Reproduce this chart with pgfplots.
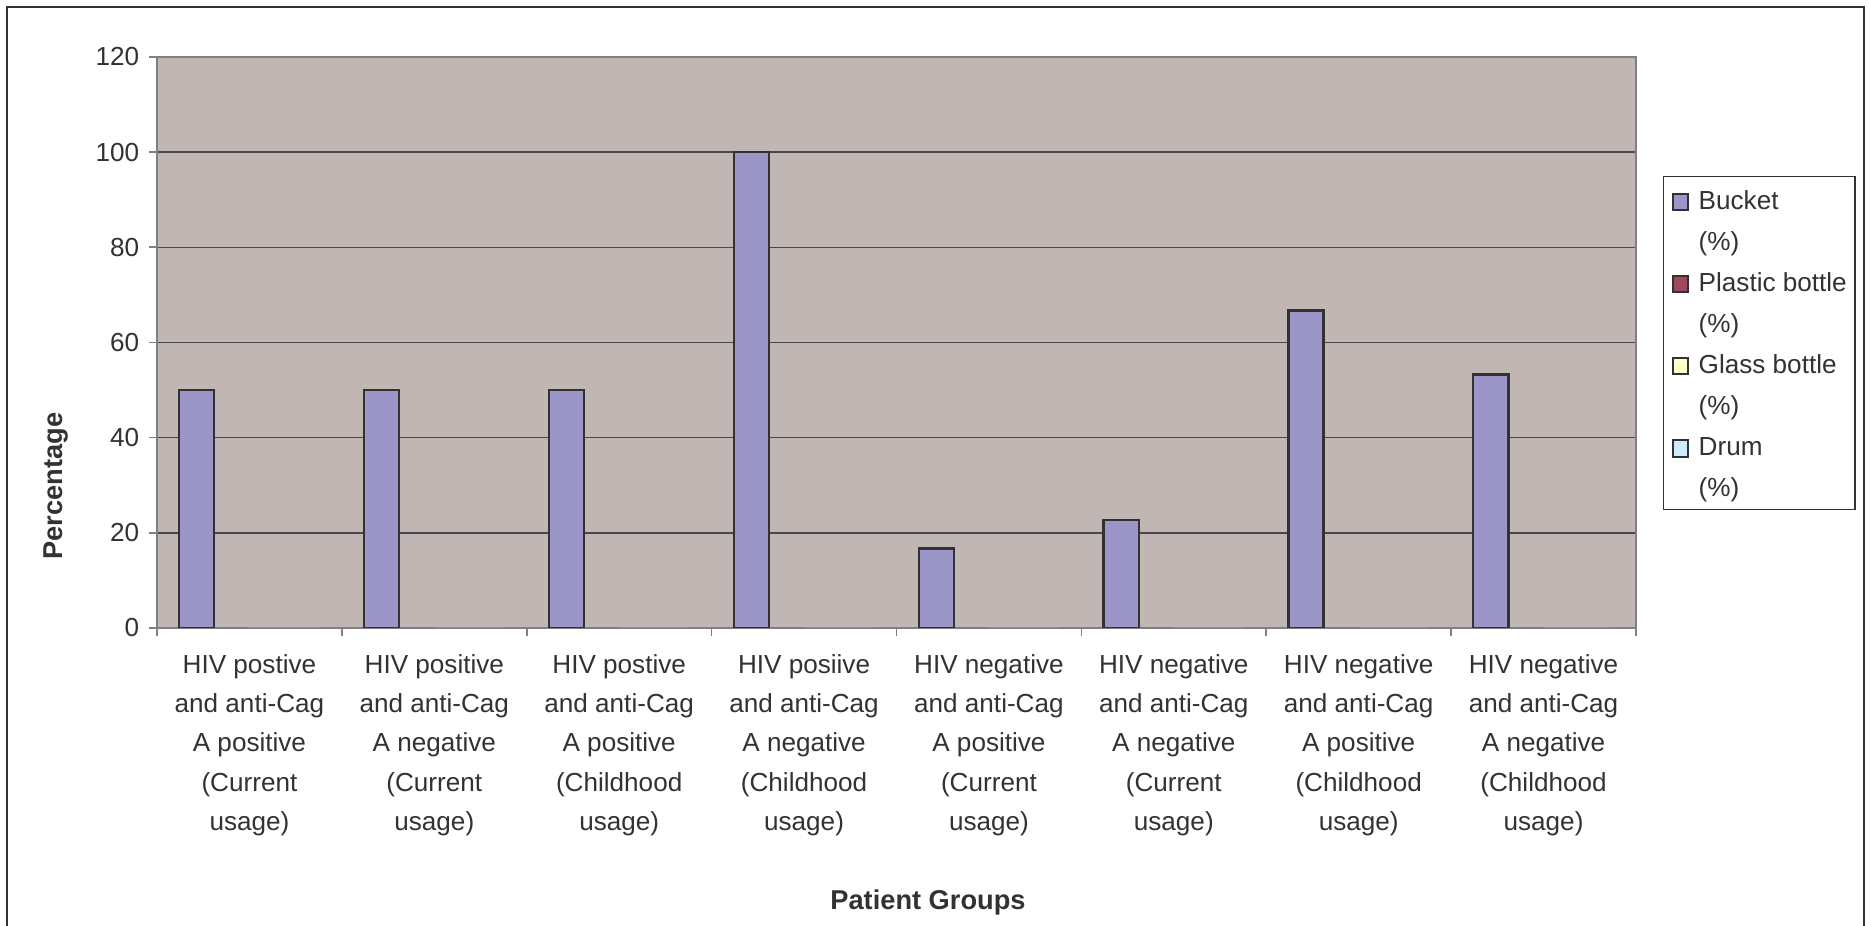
\documentclass[border=0pt]{standalone}
\usepackage{fontspec}
\setmainfont{Liberation Sans}
\usepackage{pgfplots}
\pgfplotsset{compat=1.18}
\definecolor{plotbg}{RGB}{192,183,181}
\definecolor{bucket}{RGB}{156,150,200}
\definecolor{plastic}{RGB}{160,72,92}
\definecolor{glass}{RGB}{255,255,204}
\definecolor{drum}{RGB}{204,236,255}
\definecolor{txt}{RGB}{50,50,50}
\definecolor{gridc}{RGB}{72,72,72}
\definecolor{axisc}{RGB}{128,128,128}
\pgfplotsset{sqlegend/.style={legend image code/.code={\draw[##1,draw=txt,line width=0.7pt] (0pt,-3.8pt) rectangle (5.6pt,2pt);}}}
\begin{document}
\begin{tikzpicture}
\useasboundingbox (0,0) rectangle (672.84pt,333.36pt);
\begin{axis}[
  at={(56.52pt,107.28pt)}, anchor=south west,
  width=532.44pt, height=205.56pt, scale only axis,
  xmin=0, xmax=8, ymin=0, ymax=120,
  axis background/.style={fill=plotbg},
  ytick={0,20,...,120},
  xtick={0.5,1.5,...,7.5},
  minor xtick={0,1,...,8},
  xticklabels={
    {HIV postive\\and anti-Cag\\A positive\\(Current\\usage)},
    {HIV positive\\and anti-Cag\\A negative\\(Current\\usage)},
    {HIV postive\\and anti-Cag\\A positive\\(Childhood\\usage)},
    {HIV posiive\\and anti-Cag\\A negative\\(Childhood\\usage)},
    {HIV negative\\and anti-Cag\\A positive\\(Current\\usage)},
    {HIV negative\\and anti-Cag\\A negative\\(Current\\usage)},
    {HIV negative\\and anti-Cag\\A positive\\(Childhood\\usage)},
    {HIV negative\\and anti-Cag\\A negative\\(Childhood\\usage)}},
  major x tick style={draw=none},
  major tick length=2.9pt, minor tick length=2.9pt,
  tick align=outside, tick pos=left,
  ymajorgrids, major grid style={gridc, line width=0.5pt},
  axis line style={axisc, line width=0.6pt},
  tick style={axisc, line width=0.6pt},
  ticklabel style={font=\fontsize{9.4}{14.2}\selectfont, text=txt},
  xticklabel style={align=center, yshift=-3pt},
  /pgf/number format/assume math mode=true,
  xlabel={Patient Groups},
  ylabel={Percentage},
  x label style={at={(axis description cs:0.5213,-0.4939)}, anchor=base, font=\fontsize{9.8}{12}\selectfont\bfseries, text=txt},
  y label style={at={(axis description cs:-0.0636,0.2487)}, anchor=base, rotate=0, font=\fontsize{9.8}{12}\selectfont\bfseries, text=txt},
  legend style={at={(1.0183,0.7916)}, anchor=north west, draw=txt, line width=0.5pt, fill=white,
    inner xsep=2.9pt, inner ysep=3.65pt, row sep=5.8pt, column sep=3.4pt,
    font=\fontsize{9.4}{11}\selectfont, text=txt,
    nodes={inner sep=0pt, text height=8pt, text depth=1pt},
    cells={anchor=west}},
]
\addplot[ybar, bar width=0.19, bar shift=-0.285, fill=bucket, draw=txt, line width=0.85pt, sqlegend]
  coordinates {(0.5,50) (1.5,50) (2.5,50) (3.5,100) (4.5,16.7) (5.5,22.7) (6.5,66.7) (7.5,53.3)};
\addlegendentry{Bucket}
\addlegendimage{legend image code/.code={}}
\addlegendentry{(\%)}
\addplot[ybar, bar width=0.19, bar shift=-0.095, fill=plastic, draw=none, sqlegend]
  coordinates {(0.5,0) (1.5,0) (2.5,0) (3.5,0) (4.5,0) (5.5,0) (6.5,0) (7.5,0)};
\addlegendentry{Plastic bottle}
\addlegendimage{legend image code/.code={}}
\addlegendentry{(\%)}
\addplot[ybar, bar width=0.19, bar shift=0.095, fill=glass, draw=none, sqlegend]
  coordinates {(0.5,0) (1.5,0) (2.5,0) (3.5,0) (4.5,0) (5.5,0) (6.5,0) (7.5,0)};
\addlegendentry{Glass bottle}
\addlegendimage{legend image code/.code={}}
\addlegendentry{(\%)}
\addplot[ybar, bar width=0.19, bar shift=0.285, fill=drum, draw=none, sqlegend]
  coordinates {(0.5,0) (1.5,0) (2.5,0) (3.5,0) (4.5,0) (5.5,0) (6.5,0) (7.5,0)};
\addlegendentry{Drum}
\addlegendimage{legend image code/.code={}}
\addlegendentry{(\%)}
\end{axis}
\draw[txt, line width=0.6pt] (2.52pt,0pt) -- (2.52pt,330.84pt) -- (671.04pt,330.84pt) -- (671.04pt,0pt);
\end{tikzpicture}
\end{document}
